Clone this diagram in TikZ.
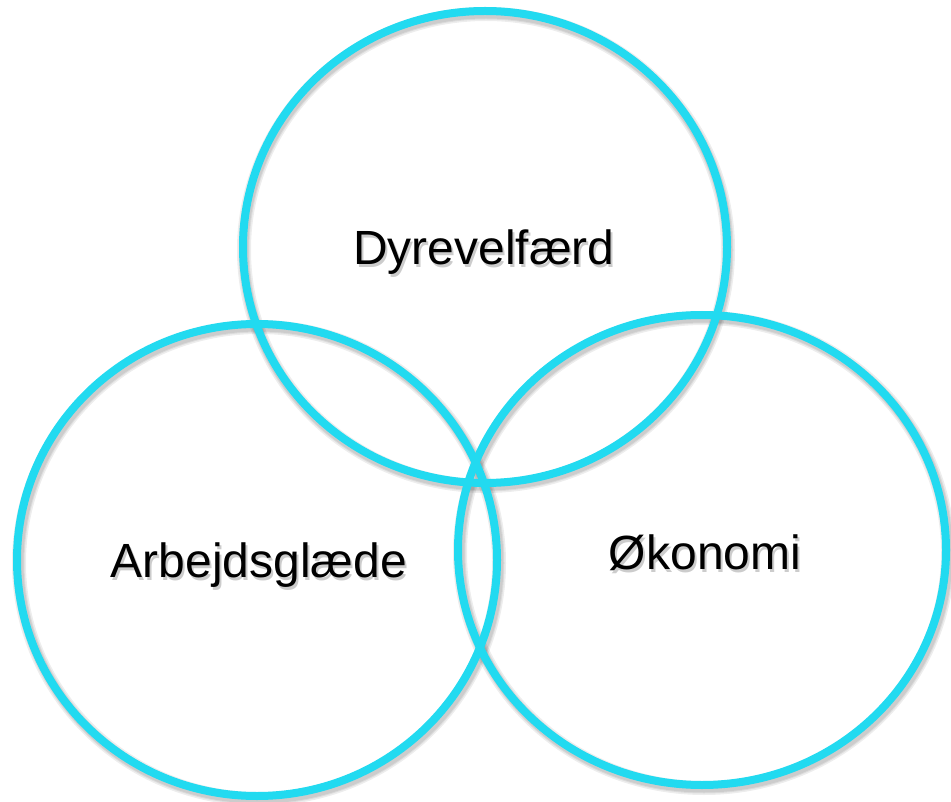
\documentclass[tikz,border=0pt]{standalone}
\usepackage{fontspec}
\setmainfont{Liberation Sans}
\definecolor{ring}{RGB}{34,218,240}
\tikzset{
  ringline/.style={draw=ring, line width=8pt},
  ringshadow/.style={draw=black, line width=#1, draw opacity=0.07},
  label/.style={font=\fontsize{48}{58}\selectfont, text=black, inner sep=0pt},
  labelshadow/.style={font=\fontsize{48}{58}\selectfont, text=black, text opacity=0.2, inner sep=0pt}
}
\begin{document}
\begin{tikzpicture}[x=1pt,y=-1pt]
\useasboundingbox (0,0) rectangle (951,802);
% shadows
\foreach \w in {14pt,11pt,9pt}{
  \draw[ringshadow=\w] (486,250) ellipse [x radius=242, y radius=236];
  \draw[ringshadow=\w] (259,563) ellipse [x radius=240, y radius=236];
  \draw[ringshadow=\w] (704,553) ellipse [x radius=244, y radius=235];
}
% rings
\draw[ringline] (485,247) ellipse [x radius=242, y radius=236];
\draw[ringline] (257,560) ellipse [x radius=240, y radius=236];
\draw[ringline] (702,550) ellipse [x radius=244, y radius=235];
% text shadows
\node[labelshadow] (s1) at (486,255) {Dyrevelfærd};
\node[labelshadow] (s2) at (261,568) {Arbejdsglæde};
\node[labelshadow] (s3) at (707,556) {Økonomi};
% text
\node[label] (dyr) at (484,252) {Dyrevelfærd};
\node[label] (arb) at (259,565) {Arbejdsglæde};
\node[label] (oko) at (705,553) {Økonomi};
\end{tikzpicture}
\end{document}
